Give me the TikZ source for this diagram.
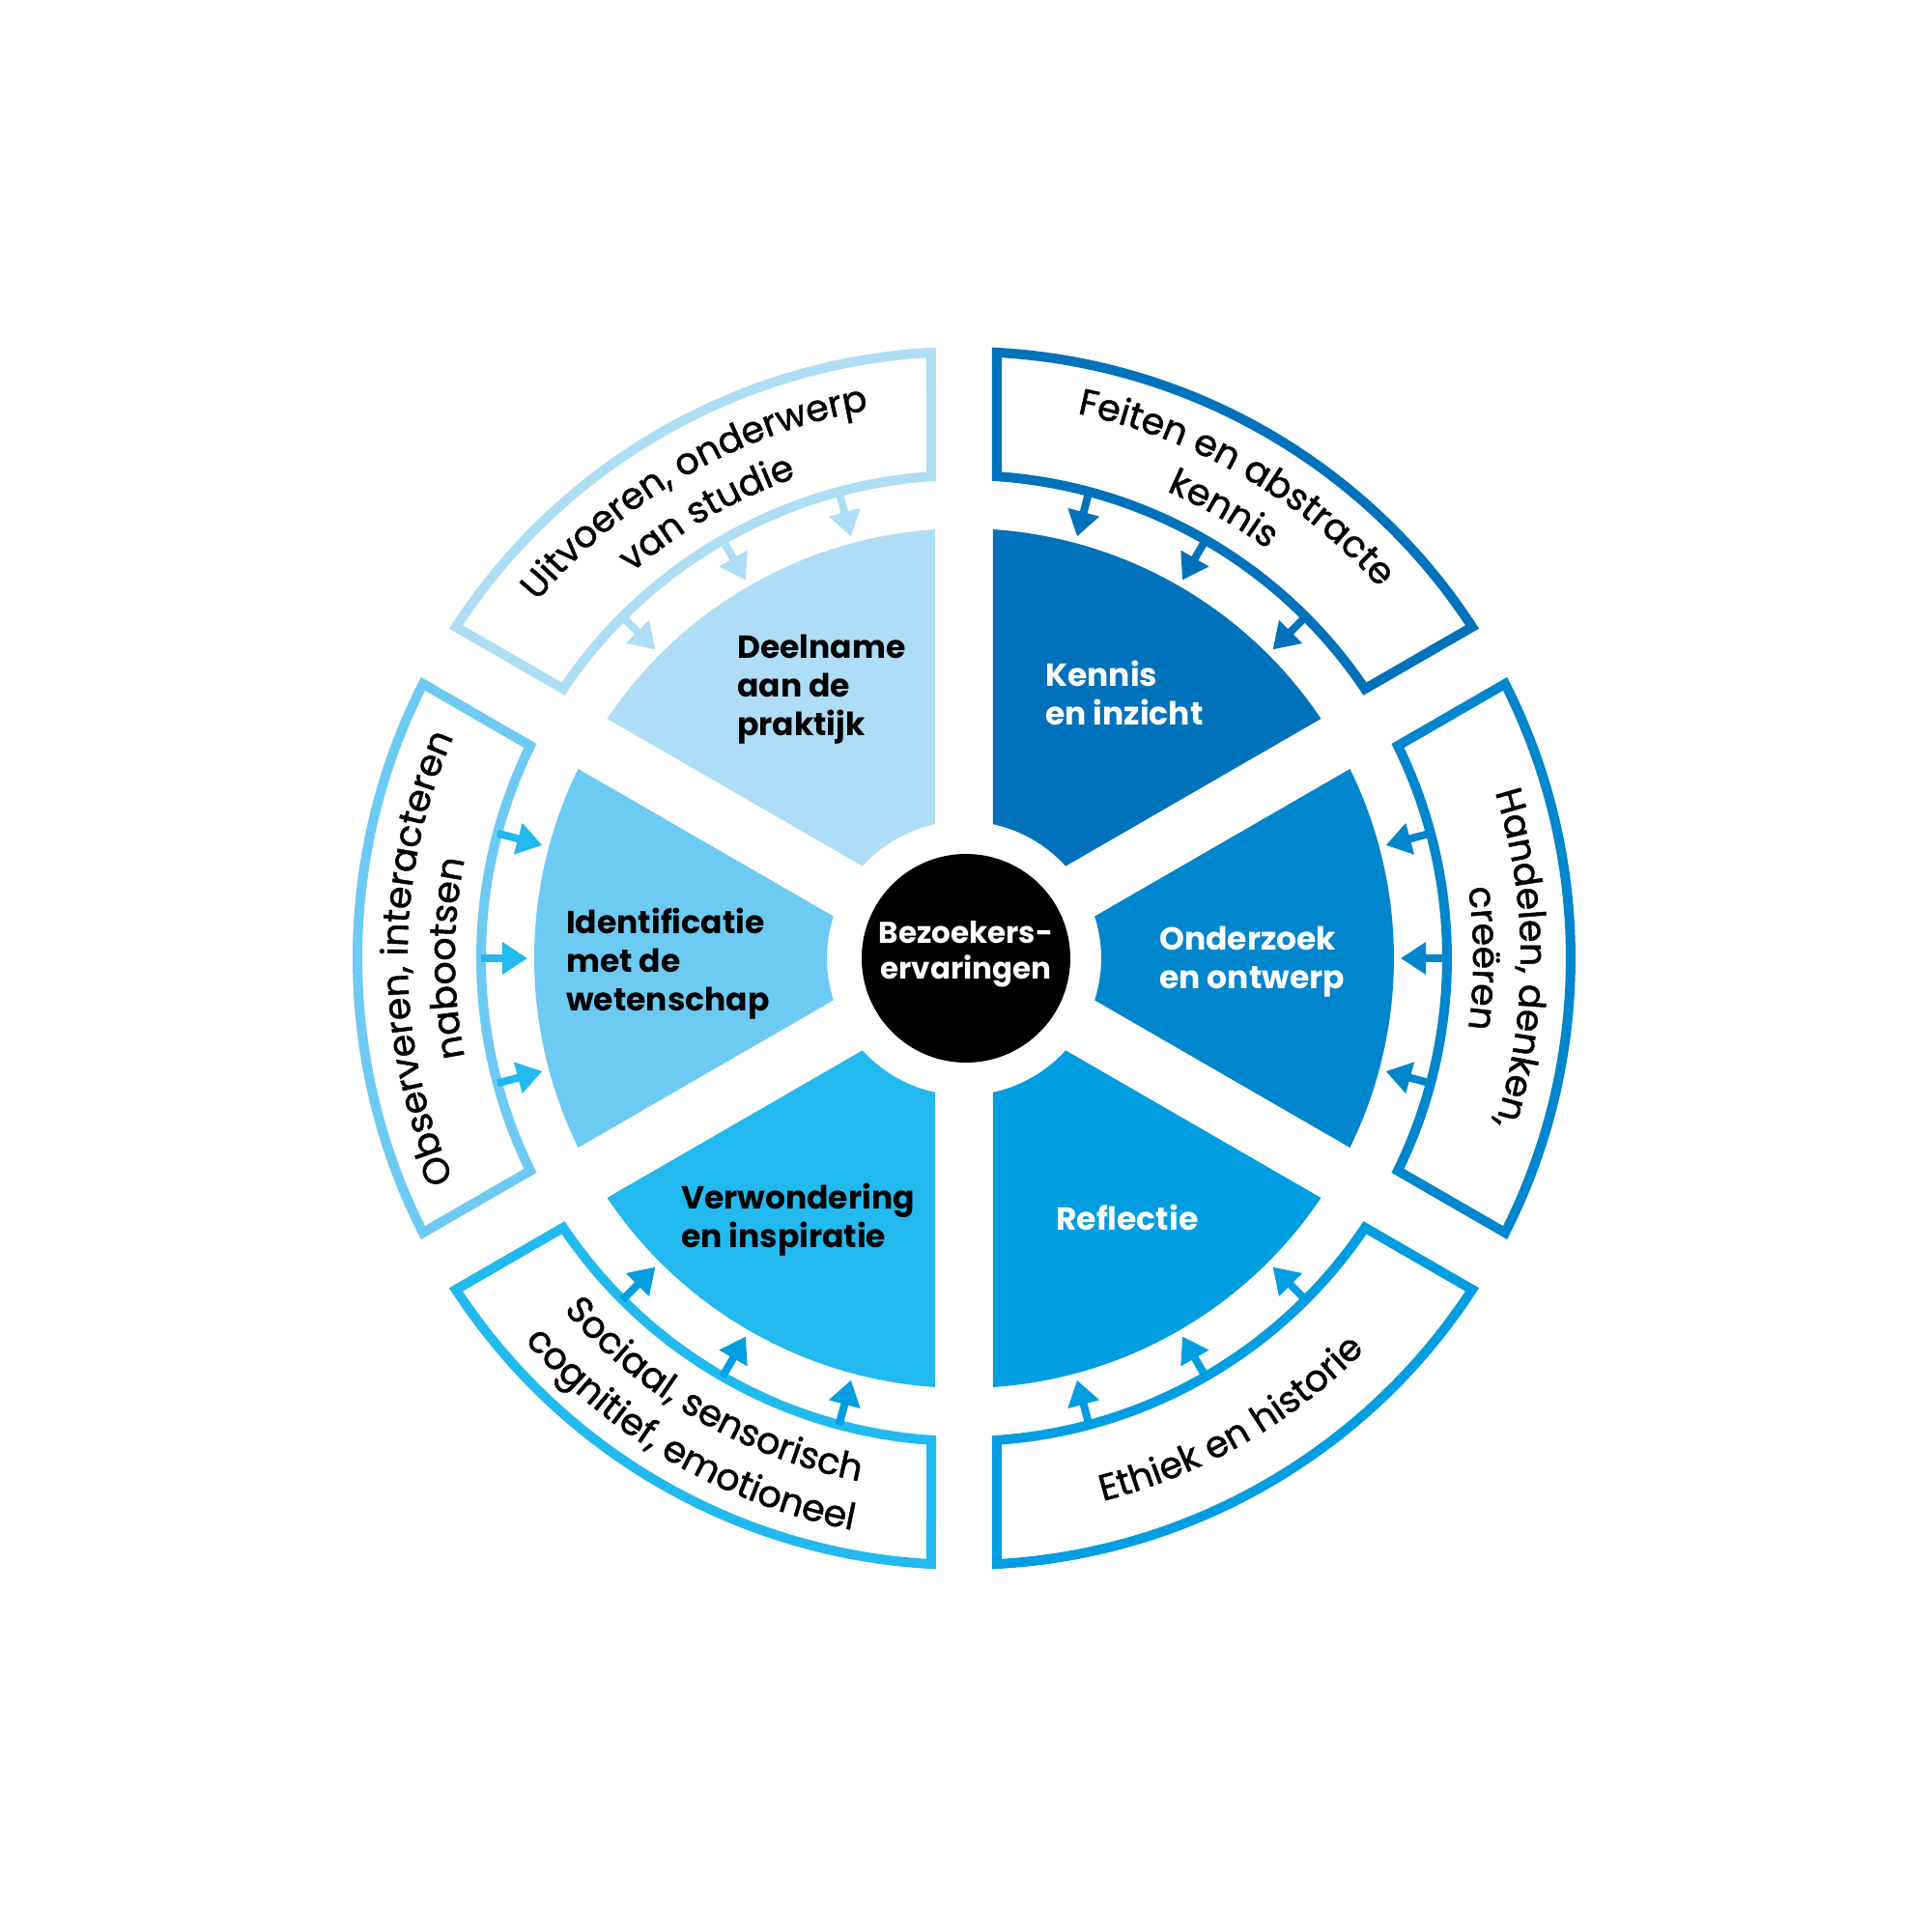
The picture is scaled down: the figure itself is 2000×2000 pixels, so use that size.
\documentclass[tikz,border=0pt]{standalone}
\usepackage{fontspec}
\setmainfont{Poppins}
\newfontfamily\bandfam[FakeBold=1.2]{Poppins}
\usetikzlibrary{decorations.text,arrows.meta}
\definecolor{cA}{HTML}{AEDDF6}
\definecolor{cB}{HTML}{0072BC}
\definecolor{cC}{HTML}{0086CD}
\definecolor{cD}{HTML}{009EE0}
\definecolor{cE}{HTML}{22B9EE}
\definecolor{cF}{HTML}{6DCAF3}
\newcommand\bandfont{\bandfam\fontsize{38}{44}\selectfont}
\tikzset{
  wedgelabel/.style={anchor=west,align=left,font=\fontsize{33}{40}\selectfont\bfseries,inner sep=0pt},
  bandbox/.style={line width=10pt,line join=miter,fill=white},
  inarrow/.style={line width=8pt,-{Triangle[length=26pt,width=32pt]}},
  clocktext/.style={decorate,decoration={text along path,text align=center,text={|\bandfont|#1}}},
}
\begin{document}
\begin{tikzpicture}[x=1pt,y=1pt]
\useasboundingbox (-998,-1008) rectangle (1002,992);
% wedges
\foreach \a/\c in {30/cB,90/cA,150/cF,210/cE,270/cD,330/cC}{
  \fill[\c] ({\a+3.866}:445) arc[start angle={\a+3.866}, end angle={\a+60-3.866}, radius=445]
     -- ({\a+60-12.197}:142) arc[start angle={\a+60-12.197}, end angle={\a+12.197}, radius=142] -- cycle;
}
% bands
\foreach \a/\c in {30/cB,90/cA,150/cF,210/cE,270/cD,330/cC}{
  \draw[bandbox,draw=\c] ({\a+3.104}:628) arc[start angle={\a+3.104}, end angle={\a+60-3.104}, radius=628]
     -- ({\a+60-3.899}:500) arc[start angle={\a+60-3.899}, end angle={\a+3.899}, radius=500] -- cycle;
}
% arrows
\foreach \a/\c in {30/cB,90/cA,150/cE,210/cD,270/cD,330/cC}{
  \foreach \k in {15,30,45}{
    \coordinate (s\a-\k) at ({\a+\k}:500);
    \coordinate (e\a-\k) at ({\a+\k}:452);
    \draw[inarrow,draw=\c,fill=\c] (s\a-\k) -- (e\a-\k);
  }
}
% center
\node[circle,fill=black,minimum size=216pt,inner sep=0pt] (center) at (2,0) {};
\node[align=center,text=white,font=\fontsize{31}{37}\selectfont\bfseries] (centertext) at (2,4) {Bezoekers-\\ervaringen};
% wedge labels
\node[wedgelabel] (deelname) at (-235,278) {Deelname\\aan de\\praktijk};
\node[wedgelabel,text=white] (kennis) at (84,275) {Kennis\\en inzicht};
\node[wedgelabel] (identificatie) at (-412,-6) {Identificatie\\met de\\wetenschap};
\node[wedgelabel,text=white] (onderzoek) at (202,-4) {Onderzoek\\en ontwerp};
\node[wedgelabel] (verwondering) at (-293,-271) {Verwondering\\en inspiratie};
\node[wedgelabel,text=white] (reflectie) at (95,-268) {Reflectie};
% band texts (tops outward: clockwise arcs)
\path[clocktext={Uitvoeren, onderwerp}] (180:576) arc[start angle=180, end angle=60, radius=576];
\path[clocktext={van studie}] (180:527) arc[start angle=180, end angle=60, radius=527];
\path[clocktext={Feiten en abstracte}] (120:576) arc[start angle=120, end angle=0, radius=576];
\path[clocktext={kennis}] (120:527) arc[start angle=120, end angle=0, radius=527];
\path[clocktext={Handelen, denken,}] (60:576) arc[start angle=60, end angle=-60, radius=576];
\path[clocktext={creëren}] (60:527) arc[start angle=60, end angle=-60, radius=527];
\path[clocktext={Observeren, interacteren}] (240:576) arc[start angle=240, end angle=120, radius=576];
\path[clocktext={nabootsen}] (240:527) arc[start angle=240, end angle=120, radius=527];
% band texts (tops inward: counterclockwise arcs)
\path[clocktext={Sociaal, sensorisch}] (180:552) arc[start angle=180, end angle=300, radius=552];
\path[clocktext={cognitief, emotioneel}] (180:603) arc[start angle=180, end angle=300, radius=603];
\path[clocktext={Ethiek en historie}] (240:580) arc[start angle=240, end angle=360, radius=580];
\end{tikzpicture}
\end{document}
